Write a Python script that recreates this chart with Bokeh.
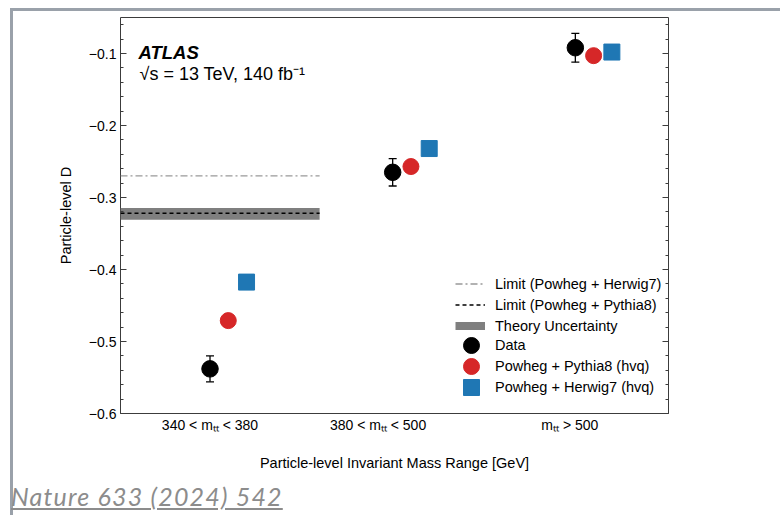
import numpy as np
from bokeh.plotting import figure
from bokeh.layouts import column
from bokeh.models import (Range1d, LinearAxis, FixedTicker, CustomJSTickFormatter,
                          ColumnDataSource, Whisker, TeeHead, Legend, LegendItem,
                          Label, Div)
from bokeh.transform import dodge
from bokeh.embed import file_html
from bokeh.resources import INLINE

# ---------------- data ----------------
bin_centers = [0.5, 1.5, 2.5]
bin_labels = ["340 < m\u209c\u209c < 380", "380 < m\u209c\u209c < 500", "m\u209c\u209c > 500"]
bin_label_pos = [0.49, 1.41, 2.46]
data_D = [-0.538, -0.265, -0.092]
data_err = [0.018, 0.019, 0.020]
pythia_D = [-0.471, -0.257, -0.103]
herwig_D = [-0.4175, -0.232, -0.098]
limit_x = [0.0, 1.09]
limit_herwig = [-0.270, -0.270]
limit_pythia = [-0.322, -0.322]
theory_lo = [-0.331, -0.331]
theory_hi = [-0.3146, -0.3146]
y_major = [-0.6, -0.5, -0.4, -0.3, -0.2, -0.1]
y_minor = [round(-0.6 + 0.02 * i, 2) for i in range(28)]

FONT = "Liberation Sans"
FRAME = "#3c3c3c"
RED = "#d62728"
BLUE = "#1f77b4"
BAND = "#7f7f7f"

p = figure(width=780, height=515, output_backend="svg", toolbar_location=None,
           x_range=Range1d(0, 3), y_range=Range1d(-0.6, -0.05),
           min_border_left=120, min_border_right=112, min_border_top=17,
           min_border_bottom=102)
p.xgrid.visible = False
p.ygrid.visible = False
p.outline_line_color = FRAME
p.outline_line_width = 1
p.background_fill_color = "white"
p.border_fill_color = "white"

# ---------------- axes ----------------
xa = p.xaxis[0]
xa.ticker = FixedTicker(ticks=bin_label_pos)
xa.major_label_overrides = {v: t for v, t in zip(bin_label_pos, bin_labels)}
xa.major_tick_line_color = None
xa.minor_tick_line_color = None
xa.axis_line_color = None
xa.major_label_standoff = -3
xa.major_label_text_font = FONT
xa.major_label_text_font_size = "14px"
xa.major_label_text_color = "black"
xa.axis_label = "Particle-level Invariant Mass Range [GeV]"
xa.axis_label_text_font = FONT
xa.axis_label_text_font_size = "14.5px"
xa.axis_label_text_font_style = "normal"
xa.axis_label_text_color = "black"
xa.axis_label_standoff = 19

ya = p.yaxis[0]
ya.ticker = FixedTicker(ticks=y_major, minor_ticks=y_minor)
ya.formatter = CustomJSTickFormatter(code="return tick.toFixed(1).replace('-', '\u2212');")
ya.axis_line_color = None
ya.major_tick_in = 6
ya.major_tick_out = 0
ya.minor_tick_in = 3
ya.minor_tick_out = 0
ya.major_tick_line_color = FRAME
ya.minor_tick_line_color = FRAME
ya.major_label_standoff = 4
ya.major_label_text_font = FONT
ya.major_label_text_font_size = "14px"
ya.major_label_text_color = "black"
ya.axis_label = "Particle-level D"
ya.axis_label_text_font = FONT
ya.axis_label_text_font_size = "14.5px"
ya.axis_label_text_font_style = "normal"
ya.axis_label_text_color = "black"
ya.axis_label_standoff = 12

ra = LinearAxis(ticker=FixedTicker(ticks=y_major, minor_ticks=y_minor),
                formatter=CustomJSTickFormatter(code="return '';"))
ra.axis_line_color = None
ra.major_tick_in = 6
ra.major_tick_out = 0
ra.minor_tick_in = 3
ra.minor_tick_out = 0
ra.major_tick_line_color = FRAME
ra.minor_tick_line_color = FRAME
p.add_layout(ra, "right")

# ---------------- limits ----------------
band = p.varea(x=limit_x, y1=theory_lo, y2=theory_hi, fill_color=BAND, fill_alpha=1)
r_hw = p.line(limit_x, limit_herwig, line_color="#999999", line_width=1.3,
              line_dash="7 3 2 3")
r_py = p.line(limit_x, limit_pythia, line_color="black", line_width=1.5,
              line_dash="4 3")
# legend swatch for the band (draws nothing in the plot)
r_band_leg = p.line(x=np.array([np.nan, np.nan]), y=np.array([np.nan, np.nan]),
                    line_color=BAND, line_width=8)

# ---------------- points ----------------
src = ColumnDataSource(dict(x=bin_centers, data=data_D,
                            upper=[d + e for d, e in zip(data_D, data_err)],
                            lower=[d - e for d, e in zip(data_D, data_err)],
                            pythia=pythia_D, herwig=herwig_D))

wk = Whisker(base=dodge("x", -0.01, range=p.x_range), upper="upper", lower="lower",
             source=src, line_color="black", line_width=1.3,
             upper_head=TeeHead(size=8, line_color="black", line_width=1.3),
             lower_head=TeeHead(size=8, line_color="black", line_width=1.3))
p.add_layout(wk)

r_data = p.scatter(x=dodge("x", -0.01, range=p.x_range), y="data", source=src,
                   marker="circle", size=16.5, fill_color="black", line_color="black")
r_pyt = p.scatter(x=dodge("x", 0.09, range=p.x_range), y="pythia", source=src,
                  marker="circle", size=16, fill_color=RED, line_color=RED)
r_her = p.scatter(x=dodge("x", 0.19, range=p.x_range), y="herwig", source=src,
                  marker="square", size=16, fill_color=BLUE, line_color=BLUE)

# ---------------- legends ----------------
common = dict(padding=0, margin=0, label_text_font=FONT, label_text_font_size="14.5px",
              label_text_color="black", border_line_alpha=0, background_fill_alpha=0)
leg1 = Legend(items=[LegendItem(label="Limit (Powheg + Herwig7)", renderers=[r_hw]),
                     LegendItem(label="Limit (Powheg + Pythia8)", renderers=[r_py]),
                     LegendItem(label="Theory Uncertainty", renderers=[r_band_leg])],
              location=(335, 77), glyph_width=30, glyph_height=21, label_height=21,
              spacing=0, label_standoff=10, **common)
p.add_layout(leg1)
for lab, rend, vy in [("Data", r_data, 48),
                      ("Powheg + Pythia8 (hvq)", r_pyt, 27),
                      ("Powheg + Herwig7 (hvq)", r_her, 6)]:
    p.add_layout(Legend(items=[LegendItem(label=lab, renderers=[rend])],
                        location=(331, vy), glyph_width=40, glyph_height=40,
                        label_height=21, spacing=0, label_standoff=4, **common))

# ---------------- texts ----------------
p.add_layout(Label(x=18, y=361, x_units="screen", y_units="screen", text="ATLAS",
                   text_font=FONT, text_font_style="bold italic", text_font_size="18.5px",
                   text_color="black", text_baseline="alphabetic"))
p.add_layout(Label(x=19, y=340, x_units="screen", y_units="screen",
                   text="\u221as = 13 TeV, 140 fb\u207b\u00b9", text_color="black",
                   text_font=FONT, text_font_size="18px", text_baseline="alphabetic"))

# ---------------- slide decoration and citation ----------------
deco = Div(text="", width=775, height=511,
           styles={"position": "absolute", "left": "5px", "top": "3px",
                   "border-top": "3px solid #9aa1aa", "border-left": "3px solid #9aa1aa",
                   "border-bottom": "1.5px solid #b8bec5", "box-sizing": "border-box",
                   "pointer-events": "none", "z-index": "10"})
cite = Div(text='<span style="font-family: Lato; font-style: italic; font-size: 25px; '
                'line-height: 30px; color: #8c8c8c; text-decoration: underline; '
                'letter-spacing: 1.2px; white-space: nowrap; display: block;">'
                'Nature 633 (2024) 542</span>',
           width=300, height=30,
           styles={"position": "absolute", "left": "11px", "top": "481px",
                   "z-index": "11", "margin": "0", "padding": "0"})

layout = column(p, deco, cite)
open("out.html", "w").write(file_html(layout, INLINE))
